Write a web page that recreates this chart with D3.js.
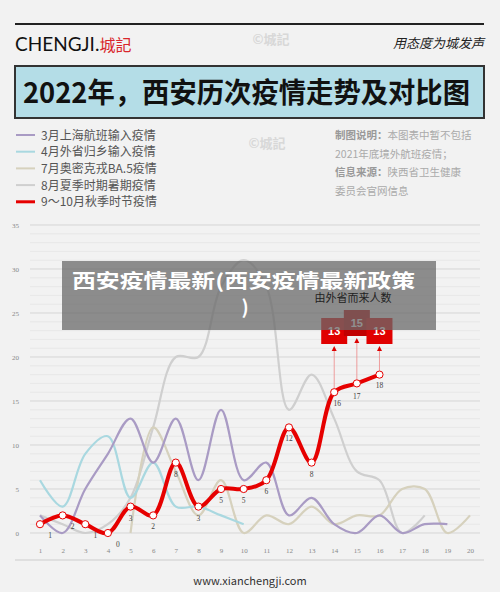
<!DOCTYPE html>
<html><head><meta charset="utf-8">
<script src="https://cdn.jsdelivr.net/npm/d3@7"></script>
<style>body{margin:0;background:#f2f2f2}svg{font-family:"Noto Sans CJK SC","Noto Sans",sans-serif}</style>
</head><body><svg id="c" width="500" height="592"></svg>
<script>
// data
var days = d3.range(1, 21);
var seriesNames = ["3月上海航班输入疫情", "4月外省归乡输入疫情", "7月奥密克戎BA.5疫情", "8月夏季时期暑期疫情", "9～10月秋季时节疫情"];
var seriesColors = ["#a99bc4", "#a9d8e0", "#d6d1bd", "#cfcfcf", "#e60000"];
var shanghai = [2, 0, 5, 9, 13, 8, 13, 6, 14, 6, 8, 2, 4, 1, 0, 2, 0, 1, 1];
var waisheng = [6, 3, 9, 11, 4, 8, 3, 3, 2, 1];
var ba5 = [1, 1, 0, 0, 0, 12, 7, 2, 6, 0, 2, 1, 3, 1, 2, 2, 5, 5, 0, 2];
var summer = [2, 1, 0, 1, 4, 12, 20, 20, 28, 31, 28, 14, 18, 13, 7, 6, 0, 2];
var autumn = [1, 2, 1, 0, 3, 2, 8, 3, 5, 5, 6, 12, 8, 16, 17, 18];
var outside = [13, 15, 13]; // 由外省而来人数, days 14-16
var yTicks = [0, 5, 10, 15, 20, 25, 30, 35];

var svg = d3.select('#c');
svg.append('rect').attr('width', 500).attr('height', 592).attr('fill', '#f2f2f2');

// header
svg.append('line').attr('x1', 15).attr('x2', 484).attr('y1', 24).attr('y2', 24).attr('stroke', '#222').attr('stroke-width', 2);
svg.append('text').attr('x', 15).attr('y', 51).attr('font-size', 19).attr('font-family', 'Lato, sans-serif').attr('fill', '#111')
    .text('CHENGJI.').append('tspan').attr('fill', '#d9262b').attr('font-family', '"Noto Sans CJK SC"').attr('font-size', 16).text('城記');
svg.append('text').attr('x', 484).attr('y', 48).attr('text-anchor', 'end').attr('font-size', 13).attr('fill', '#222')
    .attr('font-style', 'italic').text('用态度为城发声');
[[271, 44], [267, 148]].forEach(function (p) {
    svg.append('text').attr('x', p[0]).attr('y', p[1]).attr('text-anchor', 'middle').attr('font-size', 13)
        .attr('fill', '#d8d8d8').attr('font-weight', 'bold').text('©城記');
});

// title box
svg.append('rect').attr('x', 15).attr('y', 66).attr('width', 469).attr('height', 52)
    .attr('fill', '#b4dde7').attr('stroke', '#333').attr('stroke-width', 2);
svg.append('text').attr('x', 23).attr('y', 103).attr('font-size', 28).attr('font-weight', 'bold').attr('fill', '#111')
    .attr('textLength', 447).attr('lengthAdjust', 'spacingAndGlyphs')
    .text('2022年，西安历次疫情走势及对比图');

// legend
var leg = svg.append('g').attr('transform', 'translate(16,135)');
seriesNames.forEach(function (n, i) {
    var g = leg.append('g').attr('transform', 'translate(0,' + i * 16.7 + ')');
    g.append('line').attr('x1', 0).attr('x2', 19).attr('stroke', seriesColors[i]).attr('stroke-width', i == 4 ? 3 : 2);
    g.append('text').attr('x', 25).attr('y', 4.5).attr('font-size', 12).attr('fill', '#555').text(n);
});
var notes = [['制图说明：', '本图表中暂不包括'], ['', '2021年底境外航班疫情；'], ['信息来源：', '陕西省卫生健康'], ['', '委员会官网信息']];
notes.forEach(function (n, i) {
    var t = svg.append('text').attr('x', 335).attr('y', 139 + i * 18.5).attr('font-size', 10.5).attr('fill', '#aaa');
    t.append('tspan').attr('font-weight', 'bold').attr('fill', '#999').text(n[0]);
    t.append('tspan').text(n[1]);
});

// plot
var x = d3.scaleLinear().domain([1, 20]).range([40, 470]);
var y = d3.scaleLinear().domain([0, 35]).range([533, 225]);
var grid = svg.append('g');
d3.range(0, 36).forEach(function (v) {
    grid.append('line').attr('x1', 30).attr('x2', 480).attr('y1', y(v)).attr('y2', y(v))
        .attr('stroke', v % 5 == 0 ? '#d5d5d5' : '#e4e4e4').attr('stroke-width', v % 5 == 0 ? 1 : 0.7);
});
var yAxis = svg.append('g').attr('transform', 'translate(22,0)')
    .call(d3.axisLeft(y).tickValues(yTicks).tickSize(0));
var xAxis = svg.append('g').attr('transform', 'translate(0,545)')
    .call(d3.axisBottom(x).tickValues(days).tickSize(0));
[yAxis, xAxis].forEach(function (a) {
    a.select('.domain').remove();
    a.selectAll('text').attr('fill', '#888').attr('font-size', 7).attr('font-family', 'Liberation Serif, serif');
});

function addLine(data, color, w, start) {
    var l = d3.line().x(function (d, i) { return x(i + start); }).y(function (d) { return y(d); }).curve(d3.curveCatmullRom.alpha(0.5));
    svg.append('path').attr('d', l(data)).attr('fill', 'none').attr('stroke', color).attr('stroke-width', w);
}
addLine(summer, seriesColors[3], 2.2, 1);
addLine(ba5.slice(4), seriesColors[2], 2.2, 5);
addLine(waisheng, seriesColors[1], 2.2, 1);
addLine(shanghai, seriesColors[0], 2.2, 1);
addLine(autumn, seriesColors[4], 4, 1);

// annotations for outside-province cases
var ann = svg.append('g');
outside.forEach(function (v, i) {
    var d = 14 + i, px = x(d), top = i == 1 ? 310 : 318;
    ann.append('line').attr('x1', px).attr('x2', px).attr('y1', y(autumn[d - 1]) - 4).attr('y2', top + 30)
        .attr('stroke', '#e88').attr('stroke-width', 0.8);
    ann.append('path').attr('d', 'M' + (px - 2.5) + ',' + (top + 33) + 'l2.5,-5l2.5,5z').attr('fill', '#d00');
    ann.append('rect').attr('x', px - 13).attr('y', top).attr('width', 26).attr('height', 26).attr('fill', i == 1 ? '#c00000' : '#e00000');
    ann.append('text').attr('x', px).attr('y', top + 17).attr('text-anchor', 'middle').attr('fill', '#fff')
        .attr('font-size', 11).attr('font-weight', 'bold').attr('font-family', 'Liberation Sans, sans-serif').text(v);
});

// red points & labels
var pts = svg.append('g');
autumn.forEach(function (v, i) {
    pts.append('circle').attr('cx', x(i + 1)).attr('cy', y(v)).attr('r', 3.6).attr('fill', '#fff').attr('stroke', '#e60000').attr('stroke-width', 1);
    var dy = i == 14 ? 16 : i == 15 ? 13 : 14, dx = i < 4 ? 10 : i == 13 ? 3 : 0;
    pts.append('text').attr('x', x(i + 1) + dx).attr('y', y(v) + dy).attr('text-anchor', 'middle')
        .attr('font-size', 7.5).attr('fill', '#444').attr('font-family', 'Liberation Serif, serif').text(v);
});

// overlay banner
svg.append('rect').attr('x', 62).attr('y', 261).attr('width', 374).attr('height', 69).attr('fill', 'rgba(105,105,105,0.75)');
svg.append('text').attr('x', 72).attr('y', 288).attr('font-size', 19).attr('font-weight', 'bold').attr('fill', '#fff')
    .attr('textLength', 343).attr('lengthAdjust', 'spacingAndGlyphs').text('西安疫情最新(西安疫情最新政策');
svg.append('text').attr('x', 245).attr('y', 314).attr('text-anchor', 'middle').attr('font-size', 19).attr('font-weight', 'bold').attr('fill', '#fff').text(')');
svg.append('text').attr('x', 353).attr('y', 302).attr('text-anchor', 'middle').attr('font-size', 11).attr('fill', '#222').text('由外省而来人数');

// footer
svg.append('line').attr('x1', 15).attr('x2', 484).attr('y1', 560).attr('y2', 560).attr('stroke', '#ccc');
svg.append('text').attr('x', 250).attr('y', 585).attr('text-anchor', 'middle').attr('font-size', 11).attr('fill', '#333').text('www.xianchengji.com');
</script></body></html>
